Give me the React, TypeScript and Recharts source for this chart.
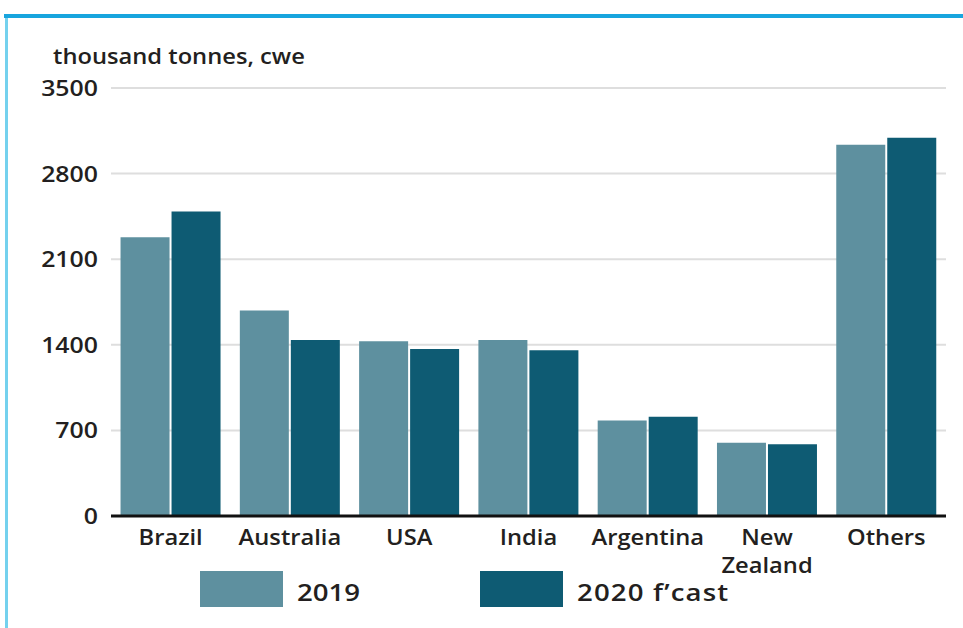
import { Bar, BarChart, CartesianGrid, XAxis, YAxis } from "recharts";

const categories = ["Brazil", "Australia", "USA", "India", "Argentina", "New Zealand", "Others"];
const values2019 = [2280, 1680, 1430, 1440, 780, 600, 3035];
const values2020 = [2490, 1440, 1365, 1355, 812, 586, 3093];
const yTicks = [0, 700, 1400, 2100, 2800, 3500];

const series = [
  { key: "y2019", name: "2019", color: "#5e909f" },
  { key: "y2020", name: "2020 f\u2019cast", color: "#0e5b73" },
];

const data = categories.map((category, i) => ({
  category,
  y2019: values2019[i],
  y2020: values2020[i],
}));

const FONT = "'Open Sans', sans-serif";
const TEXT = "#231f20";
const STRETCH = 1.13;

function YTick({ x, y, payload }: any) {
  return (
    <text
      x={x}
      y={y}
      dy={8}
      textAnchor="end"
      fill={TEXT}
      fontSize={22}
      fontWeight={600}
      fontFamily={FONT}
      transform={`translate(${x},${y}) scale(${STRETCH},1) translate(${-x},${-y})`}
    >
      {payload.value}
    </text>
  );
}

function XTick({ x, y, payload }: any) {
  const lines = String(payload.value).split(" ");
  return (
    <text
      x={x}
      y={y}
      textAnchor="middle"
      fill={TEXT}
      fontSize={21}
      fontWeight={600}
      fontFamily={FONT}
      transform={`translate(${x},${y}) scale(${STRETCH},1) translate(${-x},${-y})`}
    >
      {lines.map((line, i) => (
        <tspan key={line} x={x} y={y + 29 + i * 28}>
          {line}
        </tspan>
      ))}
    </text>
  );
}

export default function App() {
  return (
    <div style={{ position: "absolute", left: 0, top: 0, width: 963, height: 628, background: "#fff" }}>
      <div style={{ position: "absolute", left: 4, top: 14, width: 959, height: 4, background: "#18a5de" }} />
      <div style={{ position: "absolute", left: 5, top: 18, width: 3, height: 610, background: "#74d1ee" }} />
      <BarChart
        width={963}
        height={628}
        data={data}
        margin={{ top: 88, right: 17, left: 41, bottom: 52 }}
        barCategoryGap="8%"
        barGap={2}
      >
        <CartesianGrid vertical={false} stroke="#dedede" strokeWidth={2} />
        <XAxis
          dataKey="category"
          height={60}
          tickLine={false}
          tickSize={0}
          tickMargin={0}
          interval={0}
          axisLine={{ stroke: "#111", strokeWidth: 3 }}
          tick={<XTick />}
        />
        <YAxis
          width={70}
          domain={[0, 3500]}
          ticks={yTicks}
          axisLine={false}
          tickLine={false}
          tickSize={0}
          tickMargin={13}
          tick={<YTick />}
        />
        {series.map((s) => (
          <Bar key={s.key} dataKey={s.key} name={s.name} fill={s.color} isAnimationActive={false} />
        ))}
      </BarChart>
      <svg
        width={963}
        height={628}
        style={{ position: "absolute", left: 0, top: 0, pointerEvents: "none" }}
      >
        <text
          x={53}
          y={64}
          fill={TEXT}
          fontSize={21}
          fontWeight={600}
          fontFamily={FONT}
          transform={`translate(53,64) scale(${STRETCH},1) translate(-53,-64)`}
        >
          thousand tonnes, cwe
        </text>
        {series.map((s, i) => {
          const bx = 200 + i * 280;
          const tx = bx + 97;
          return (
            <g key={s.key}>
              <rect x={bx} y={571} width={83} height={36} fill={s.color} />
              <text
                x={tx}
                y={601}
                fill={TEXT}
                fontSize={24}
                fontWeight={600}
                fontFamily={FONT}
                letterSpacing={i === 1 ? 1 : 0}
                transform={`translate(${tx},601) scale(1.15,1) translate(${-tx},-601)`}
              >
                {s.name}
              </text>
            </g>
          );
        })}
      </svg>
    </div>
  );
}
